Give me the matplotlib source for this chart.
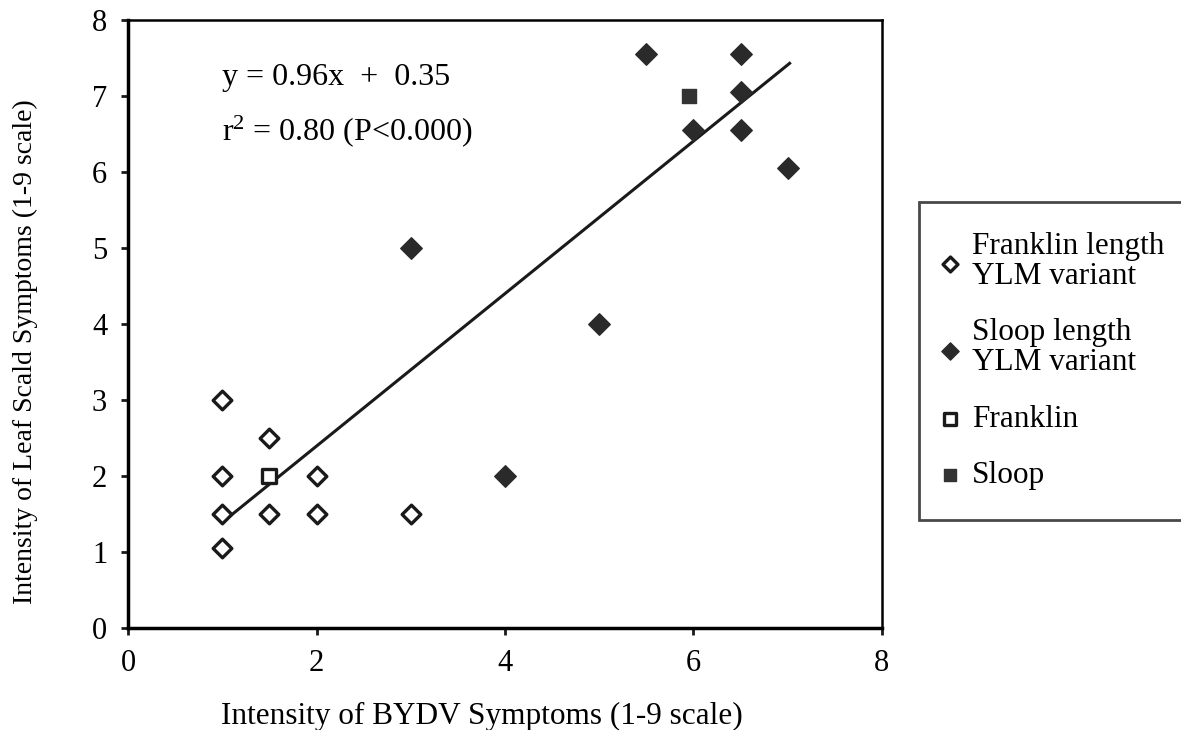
import numpy as np
import matplotlib.pyplot as plt

plt.rcParams['font.family'] = ['Liberation Serif', 'DejaVu Serif']
plt.rcParams['mathtext.fontset'] = 'custom'
plt.rcParams['mathtext.rm'] = 'Liberation Serif'
plt.rcParams['mathtext.it'] = 'Liberation Serif:italic'

# Franklin length YLM variant (open diamonds)
fl_ylm_x = [1, 1, 1, 1, 1.5, 1.5, 2, 2, 3]
fl_ylm_y = [3.0, 2.0, 1.5, 1.05, 2.5, 1.5, 2.0, 1.5, 1.5]

# Sloop length YLM variant (filled diamonds)
sl_ylm_x = [3, 4, 5, 5.5, 6, 6.5, 6.5, 6.5, 7]
sl_ylm_y = [5.0, 2.0, 4.0, 7.55, 6.55, 7.55, 7.05, 6.55, 6.05]

# parents
franklin_x = [1.5]
franklin_y = [2.0]
sloop_x = [5.95]
sloop_y = [7.0]

# regression line as drawn
trend_x = [1.0, 7.02]
trend_y = [1.39, 7.43]

ticks = [0, 2, 4, 6, 8]
yticks = [0, 1, 2, 3, 4, 5, 6, 7, 8]

fig = plt.figure(figsize=(11.81, 7.30), dpi=100)
ax = fig.add_axes([0.1084, 0.1397, 0.6384, 0.8329])

ax.plot(trend_x, trend_y, color='#1a1a1a', lw=2.2, zorder=1)
ax.scatter(fl_ylm_x, fl_ylm_y, marker='D', s=90, facecolor='white',
           edgecolor='#1a1a1a', linewidths=2.4, zorder=3, label='Franklin length\nYLM variant')
ax.scatter(sl_ylm_x, sl_ylm_y, marker='D', s=120, facecolor='#2a2a2a',
           edgecolor='#2a2a2a', linewidths=1, zorder=3, label='Sloop length\nYLM variant')
ax.scatter(franklin_x, franklin_y, marker='s', s=110, facecolor='white',
           edgecolor='#1a1a1a', linewidths=2.4, zorder=4, label='Franklin')
ax.scatter(sloop_x, sloop_y, marker='s', s=110, facecolor='#333333',
           edgecolor='#333333', linewidths=1, zorder=4, label='Sloop')

ax.set_xlim(0, 8)
ax.set_ylim(0, 8)
ax.set_xticks(ticks)
ax.set_yticks(yticks)
ax.tick_params(direction='out', length=5, width=2, labelsize=22, color='#1a1a1a', pad=10)
for side in ['left', 'bottom']:
    ax.spines[side].set_linewidth(2.5)
for side in ['top', 'right']:
    ax.spines[side].set_linewidth(1.8)

ax.text(1.0, 7.24, 'y = 0.96x  +  0.35', fontsize=23, va='center')
ax.text(1.0, 6.54, r'r$^{2}$ = 0.80 (P<0.000)', fontsize=23, va='center')

ax.set_xlabel('Intensity of BYDV Symptoms (1-9 scale)', fontsize=22.5)
ax.set_ylabel('Intensity of Leaf Scald Symptoms (1-9 scale)', fontsize=20)
ax.xaxis.set_label_coords(0.469, -0.122)
ax.yaxis.set_label_coords(-0.119, 0.454)

leg = fig.legend(loc='upper left', bbox_to_anchor=(0.778, 0.30, 0.25, 0.4233),
                 mode='expand', fontsize=22.5, frameon=True, fancybox=False,
                 borderaxespad=0, handletextpad=0.65, labelspacing=0.88,
                 borderpad=0.95, handlelength=0.1, markerscale=0.8)
for t in leg.get_texts():
    t.set_linespacing(1.05)
leg.get_frame().set_edgecolor('#1a1a1a')
leg.get_frame().set_linewidth(2)

fig.savefig('out.png', dpi=100)
